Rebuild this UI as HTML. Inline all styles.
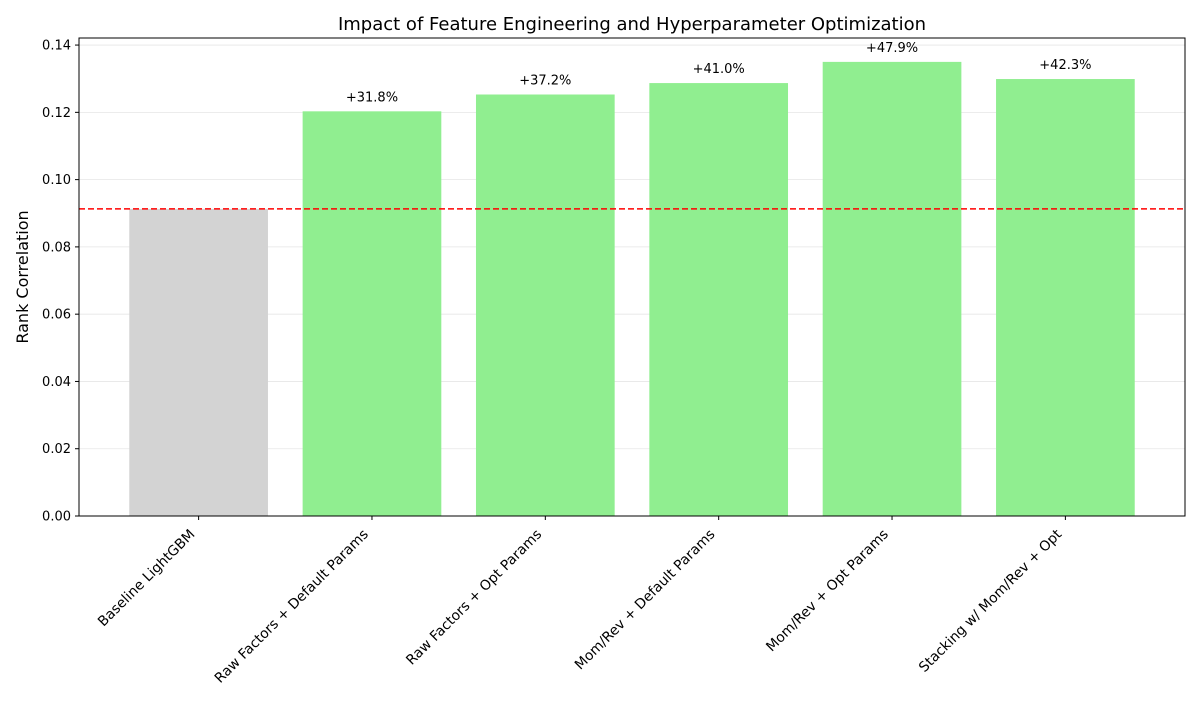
<!DOCTYPE html>
<html><head><meta charset="utf-8"><style>
body{margin:0;background:#fff;}
svg text{font-family:"DejaVu Sans","Liberation Sans",sans-serif;}
</style></head><body>
<svg id="chart" width="1200" height="700" xmlns="http://www.w3.org/2000/svg">
<rect width="1200" height="700" fill="#fff"/>
<g id="grid"></g><g id="bars"></g><g id="axes"></g>
</svg>
<script>
const categories=["Baseline LightGBM","Raw Factors + Default Params","Raw Factors + Opt Params","Mom/Rev + Default Params","Mom/Rev + Opt Params","Stacking w/ Mom/Rev + Opt"];
const values=[0.0913,0.1203,0.1253,0.1287,0.1350,0.1299];
const baselineValue=0.0913;
const yTicks=[0,0.02,0.04,0.06,0.08,0.10,0.12,0.14];
const NS="http://www.w3.org/2000/svg";
const L=79,R=1185,T=38,B=516,ymax=0.1421;
const xmin=-0.69,xmax=categories.length-1+0.69;
const x=i=>L+(i-xmin)/(xmax-xmin)*(R-L);
const y=v=>B-v/ymax*(B-T);
const bw=0.8*(R-L)/(xmax-xmin);
function mk(t,a,p){const e=document.createElementNS(NS,t);for(const k in a)e.setAttribute(k,a[k]);(p||document.getElementById('axes')).appendChild(e);return e;}
const grid=document.getElementById('grid'),bars=document.getElementById('bars');
yTicks.forEach(v=>{
 const g=mk('line',{x1:L,x2:R,y1:y(v),y2:y(v),stroke:'#e6e6e6','stroke-width':0.8},grid);
 
 
 mk('line',{x1:L-4,x2:L,y1:y(v),y2:y(v),stroke:'#000'});
 const t=mk('text',{x:L-8,y:y(v)+4.5,'text-anchor':'end','font-size':13});
 t.textContent=v.toFixed(2);
 
 
});
values.forEach((v,i)=>{
 const r=mk('rect',{x:x(i)-bw/2,y:y(v),width:bw,height:B-y(v),fill:i===0?'#d3d3d3':'#90ee90'},bars);
 
 
 if(i>0){const t=mk('text',{x:x(i),y:y(v)-10,'text-anchor':'middle','font-size':13},bars);
  t.textContent='+'+((v/baselineValue-1)*100).toFixed(1)+'%';
  
  }
 mk('line',{x1:x(i),x2:x(i),y1:B,y2:B+4,stroke:'#000'});
 const t=mk('text',{transform:`translate(${x(i)-3},${B+19}) rotate(-45)`,'text-anchor':'end','font-size':13.9});
 t.textContent=categories[i];
 
 
});
const bl=mk('line',{x1:L,x2:R,y1:y(baselineValue),y2:y(baselineValue),stroke:'#f00','stroke-width':1.6,'stroke-dasharray':'6,3'});


const fr=mk('rect',{x:L,y:T,width:R-L,height:B-T,fill:'none',stroke:'#000','stroke-width':1});


const ti=mk('text',{x:(L+R)/2,y:30,'text-anchor':'middle','font-size':18});
ti.textContent='Impact of Feature Engineering and Hyperparameter Optimization';


const yl=mk('text',{transform:`translate(28,${(T+B)/2}) rotate(-90)`,'text-anchor':'middle','font-size':16});
yl.textContent='Rank Correlation';


</script>
</body></html>
